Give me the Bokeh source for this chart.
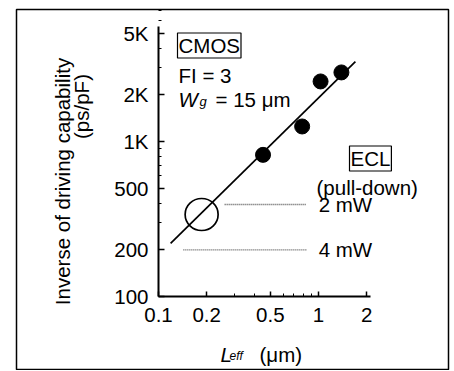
from bokeh.plotting import figure
from bokeh.models import (Range1d, LogAxis, FixedTicker, Label, ColumnDataSource, LogScale)
from bokeh.embed import file_html
from bokeh.resources import INLINE
from bokeh.core.properties import value

# ---- data ----
cmos_leff = [0.45, 0.79, 1.03, 1.39]
cmos_inv = [820, 1250, 2440, 2790]
fit_leff = [0.119, 1.70]
fit_inv = [220, 3280]
circle_leff = [0.186]
circle_inv = [338]
ecl_labels = ["2 mW", "4 mW"]
ecl_inv = [392, 200]
ecl_start = [0.259, 0.143]
ecl_end = [0.84, 0.85]
y_ticks = [100, 200, 500, 1000, 2000, 5000]
y_tick_labels = ["100", "200", "500", "1K", "2K", "5K"]
x_ticks = [0.1, 0.2, 0.5, 1, 2]
x_tick_labels = ["0.1", "0.2", "0.5", "1", "2"]

FONT = "Liberation Sans"
FS = "20.5px"

p = figure(frame_width=432, frame_height=361,
           x_range=Range1d(0.01296, 6.49), y_range=Range1d(33.3, 7106),
           x_axis_location=None, y_axis_location=None,
           output_backend="svg", toolbar_location=None,
           min_border_left=16, min_border_top=9, min_border_right=2, min_border_bottom=0)
p.x_scale = LogScale()
p.y_scale = LogScale()
p.xgrid.visible = False
p.ygrid.visible = False
p.outline_line_color = "black"
p.outline_line_width = 1.5
p.background_fill_color = "white"

# y axis
yminor = [v * m for v in (100, 1000) for m in range(2, 10)]
yax = LogAxis(ticker=FixedTicker(ticks=y_ticks, minor_ticks=yminor),
              fixed_location=0.1, bounds=(100, 5500))
yax.major_label_overrides = {t: l for t, l in zip(y_ticks, y_tick_labels)}
yax.major_tick_in = 6
yax.major_tick_out = 0
yax.minor_tick_in = 3
yax.minor_tick_out = 0
yax.axis_line_width = 2
yax.major_tick_line_width = 1.5
yax.major_label_standoff = 10
yax.major_label_text_font = FONT
yax.major_label_text_font_size = FS
yax.major_label_text_color = "black"
p.add_layout(yax, "left")

# x axis
xminor = [0.1 * m for m in range(2, 10)] + [2.0]
xax = LogAxis(ticker=FixedTicker(ticks=x_ticks, minor_ticks=xminor),
              fixed_location=100, bounds=(0.1, 2.12))
xax.major_label_overrides = {t: l for t, l in zip(x_ticks, x_tick_labels)}
xax.major_tick_in = 5
xax.major_tick_out = 0
xax.minor_tick_in = 3
xax.minor_tick_out = 0
xax.axis_line_width = 2
xax.major_tick_line_width = 1.5
xax.major_label_standoff = 12
xax.major_label_text_font = FONT
xax.major_label_text_font_size = FS
xax.major_label_text_color = "black"
p.add_layout(xax, "below")

# fit line
p.line(fit_leff, fit_inv, line_color="black", line_width=1.7)
# data points
p.scatter(cmos_leff, cmos_inv, size=15, color="black")
# open circle
p.ellipse(circle_leff, circle_inv, width=33, height=32, width_units="screen",
          height_units="screen", fill_color=None, line_color="black", line_width=1.7)
# ECL dotted lines
src = ColumnDataSource(dict(x0=ecl_start, x1=ecl_end, y=ecl_inv, lab=ecl_labels))
p.segment(x0="x0", y0="y", x1="x1", y1="y", source=src, line_color="#555555",
          line_width=1.4, line_dash="1 1")
p.text(x=[2.0, 2.0], y=ecl_inv, text=ecl_labels, text_font=value(FONT),
       text_font_size=FS, text_baseline="middle", text_align="left",
       x_offset=[-48, -48], text_color="black")

def lab(x, y, text, size=FS, style="normal", box=False, align="left",
        baseline="alphabetic", angle=0.0):
    l = Label(x=x, y=y, x_units="screen", y_units="screen", text=text,
              text_font=FONT, text_font_size=size, text_font_style=style,
              text_align=align, text_baseline=baseline, angle=angle,
              text_color="black")
    if box:
        l.border_line_color = "black"
        l.border_line_width = 1.2
        l.padding = 1
    p.add_layout(l)

# frame origin on page: left 16, bottom 370
L0, B0 = 16, 370
def sx(px): return px - L0
def sy(py): return B0 - py

lab(sx(177), sy(45), "CMOS", box=True)
lab(sx(178), sy(75), "FI = 3")
lab(sx(178), sy(99), "W", style="italic")
lab(sx(199), sy(101), "g", size="13px", style="italic")
lab(sx(215), sy(99), "= 15 μm")
lab(sx(349), sy(158), "ECL", box=True)
lab(sx(316), sy(187), "(pull-down)")

# axis titles
lab(sx(62), sy(181), "Inverse of driving capability", angle=1.5708,
    align="center", baseline="alphabetic")
lab(sx(81), sy(106), "(ps/pF)", angle=1.5708, align="center", baseline="alphabetic")
lab(sx(220), sy(354), "L", style="italic")
lab(sx(229), sy(355), "eff", size="12px", style="italic")
lab(sx(259), sy(354), "(μm)")

open("out.html", "w").write(file_html(p, INLINE))
